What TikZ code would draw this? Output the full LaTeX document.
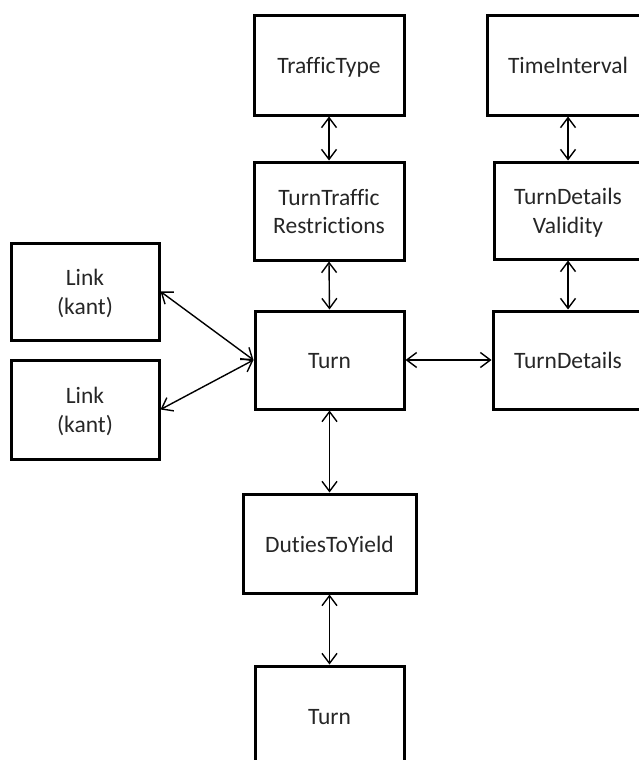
\documentclass[tikz,border=0pt]{standalone}
\usepackage{fontspec}
\setmainfont{Carlito}[Ligatures={NoCommon}]
\usetikzlibrary{arrows.meta}
\begin{document}
\begin{tikzpicture}[x=1pt,y=1pt,
  box/.style={draw=black, line width=3pt, align=center, inner sep=0pt,
    text=black!85, font=\fontsize{23.5}{28.5}\selectfont},
  oneline/.style={box, text height=20pt, text depth=3pt},
  twoline/.style={box, text height=48pt, text depth=3pt},
  link/.style={line width=1.4pt, {Straight Barb[length=10pt,width=15pt,line width=1.4pt]}-{Straight Barb[length=10pt,width=15pt,line width=1.4pt]}}]
\useasboundingbox (0,0) rectangle (639,-760);
\clip (0,0) rectangle (639,-760);
\node[oneline, minimum width=150pt, minimum height=99pt] (tt) at (329,-65.5) {TrafficType};
\node[oneline, minimum width=162pt, minimum height=99pt] (ti) at (568,-65.5) {TimeInterval};
\node[twoline, minimum width=150pt, minimum height=98pt] (ttr) at (329,-211) {TurnTraffic\\Restrictions};
\node[twoline, minimum width=148pt, minimum height=97pt] (tdv) at (568,-210.5) {TurnDetails\\Validity};
\node[twoline, minimum width=148pt, minimum height=97pt] (l1) at (85,-291.5) {Link\\(kant)};
\node[twoline, minimum width=148pt, minimum height=99pt] (l2) at (85,-409.5) {Link\\(kant)};
\node[oneline, minimum width=149pt, minimum height=98pt] (turn) at (329.5,-360) {Turn};
\node[oneline, minimum width=150pt, minimum height=98pt] (td) at (568,-360) {TurnDetails};
\node[oneline, minimum width=173pt, minimum height=99pt] (dty) at (329.5,-543.5) {DutiesToYield};
\node[oneline, minimum width=149pt, minimum height=99pt] (turn2) at (329.5,-715.5) {Turn};
\draw[link] (tt.south) -- (ttr.north);
\draw[link] (ti.south) -- (tdv.north);
\draw[link] (ttr.south) -- (turn.north);
\draw[link] (tdv.south) -- (td.north);
\draw[link] (l1.east) -- (turn.west);
\draw[link] (l2.east) -- (turn.west);
\draw[link] (turn.east) -- (td.west);
\draw[link] (turn.south) -- (dty.north);
\draw[link] (dty.south) -- (turn2.north);
\end{tikzpicture}
\end{document}
